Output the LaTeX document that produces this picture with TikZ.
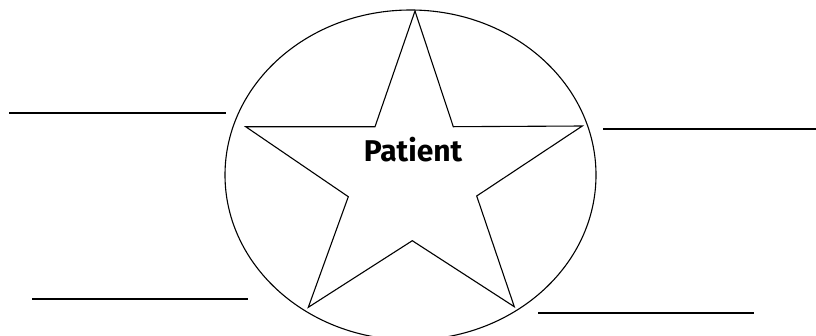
\documentclass[tikz,border=0pt]{standalone}
\usepackage{fontspec}
\newfontfamily\labelfont{Fira Sans}
\begin{document}
\begin{tikzpicture}[x=1pt,y=-1pt,
  outline/.style={draw=black,line width=1.1pt,line join=miter},
  blank/.style={draw=black,line width=1.8pt},
  title/.style={font=\labelfont\bfseries\fontsize{30}{34}\selectfont,inner sep=0pt}]
\fill[white] (0,0) rectangle (816,335);
\useasboundingbox (0,0) rectangle (816,335);
\begin{scope}
\clip (0,0) rectangle (816,335);
% circle
\draw[outline] (410.5,175) ellipse [x radius=185.5, y radius=165];
\end{scope}
% star
\draw[outline] (415,11) -- (453.3,126.7) -- (582.3,126) -- (476.7,196) -- (514.3,306.7)
  -- (412.3,240.7) -- (308.3,307.3) -- (348.3,196.7) -- (245.7,126.7) -- (375,126.7) -- cycle;
\node[title] (patient) at (413,150) {Patient};
% blank lines
\coordinate (l1a) at (9,113.3);   \coordinate (l1b) at (226,113.3);
\coordinate (r1a) at (603,129);   \coordinate (r1b) at (816,129);
\coordinate (l2a) at (32,299);    \coordinate (l2b) at (248,299);
\coordinate (r2a) at (538,313);   \coordinate (r2b) at (754,313);
\draw[blank] (l1a) -- (l1b);
\draw[blank] (r1a) -- (r1b);
\draw[blank] (l2a) -- (l2b);
\draw[blank] (r2a) -- (r2b);
\end{tikzpicture}
\end{document}
